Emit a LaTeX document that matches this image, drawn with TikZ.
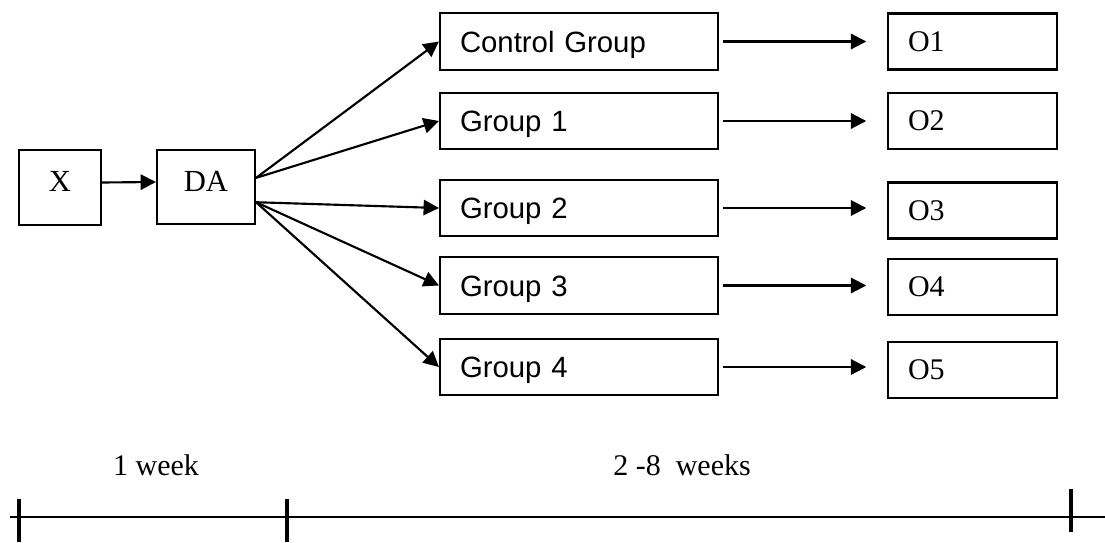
\documentclass[tikz,border=0pt]{standalone}
\usepackage{fontspec}
\setmainfont{Liberation Serif}
\newfontfamily\arialfont{Liberation Sans}
\usetikzlibrary{arrows.meta, positioning, calc}

\begin{document}
\begin{tikzpicture}[
    x=0.75pt, y=-0.75pt,
    % Styles
    stagebox/.style={
        rectangle, draw=black, line width=1.6pt,
        inner sep=0pt,
        font=\fontsize{23}{27}\selectfont,
        text height=15pt, text depth=9pt
    },
    groupbox/.style={
        rectangle, draw=black, line width=1.6pt,
        minimum height=42.5pt,
        inner xsep=15pt, inner ysep=0pt,
        text width=178.5pt, align=left,
        font=\arialfont\fontsize{22}{26}\selectfont,
        text height=15.8pt, text depth=0pt
    },
    outbox/.style={
        rectangle, draw=black, line width=1.6pt,
        minimum height=42pt,
        inner xsep=15pt, inner ysep=0pt,
        text width=96.75pt, align=left,
        font=\fontsize{22.5}{27}\selectfont,
        text height=14.9pt, text depth=0pt
    },
    arrow/.style={
        -{Triangle[length=11.5pt, width=11.5pt]},
        line width=1.6pt, color=black
    },
    weeklabel/.style={
        font=\fontsize{22.5}{27}\selectfont, inner sep=0pt
    },
]
\useasboundingbox (0,0) rectangle (1105,542);

% Start boxes
\node[stagebox, minimum width=61.5pt, minimum height=56.25pt] (x) at (60,187.5) {X};
\node[stagebox, minimum width=73.5pt, minimum height=55.5pt] (da) at (206,187) {DA};

% Group boxes
\node[groupbox] (ctrl) at (579,41.5) {Control Group};
\node[groupbox] (g1) at (579,121) {Group 1};
\node[groupbox] (g2) at (579,208) {Group 2};
\node[groupbox] (g3) at (579,285.5) {Group 3};
\node[groupbox] (g4) at (579,367) {Group 4};

% Outcome boxes
\node[outbox] (o1) at (972.5,41.5) {O1};
\node[outbox] (o2) at (972.5,121) {O2};
\node[outbox] (o3) at (972.5,210.5) {O3};
\node[outbox] (o4) at (972.5,287) {O4};
\node[outbox] (o5) at (972.5,370) {O5};

% Arrows
\draw[arrow] ([yshift=3.75pt]x.east) -- ([yshift=3.75pt]da.west);
\coordinate (daup) at ($(da.north east)!0.38!(da.south east)$);
\coordinate (dadown) at ($(da.north east)!0.70!(da.south east)$);
\draw[arrow] (daup) -- (ctrl.west);
\draw[arrow] (daup) -- (g1.west);
\draw[arrow] (dadown) -- (g2.west);
\draw[arrow] (dadown) -- (g3.west);
\draw[arrow] (dadown) -- (g4.west);

\foreach \g/\o in {ctrl/o1, g1/o2, g2/o3, g3/o4, g4/o5} {
    \draw[arrow, shorten <=3pt, shorten >=15.5pt] (\g.east) -- (\g.east -| \o.west);
}

% Time line
\node[weeklabel] (wk1) at (156,465) {1 week};
\node[weeklabel] (wk2) at (682,465) {2 -8~~weeks};
\coordinate (tlstart) at (10,517);
\coordinate (tlend) at (1105,517);
\draw[line width=1.8pt] (tlstart) -- (tlend);
\foreach \x in {19, 287} {
    \draw[line width=3.5pt] (\x,499) -- (\x,542);
}
\draw[line width=3.5pt] (1071,489) -- (1071,532);

\end{tikzpicture}
\end{document}
